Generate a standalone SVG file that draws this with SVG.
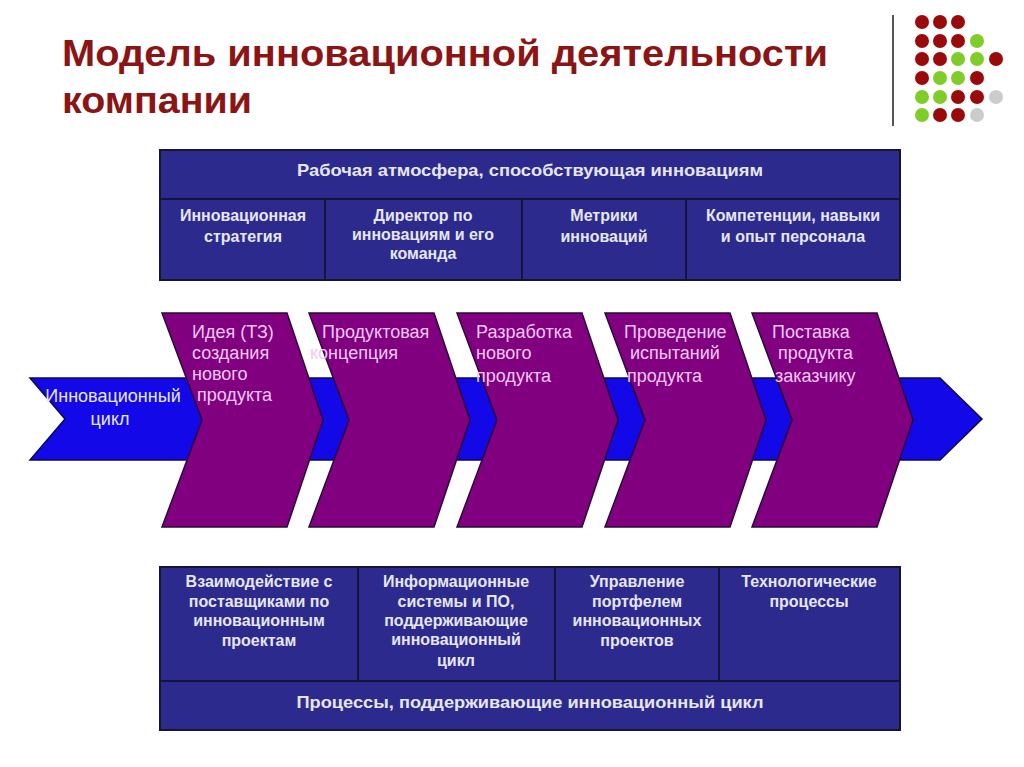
<svg xmlns="http://www.w3.org/2000/svg" width="1024" height="767" viewBox="0 0 1024 767">
<style>
.title{font-family:"Liberation Sans",Arial,sans-serif;font-weight:bold;font-size:36px;fill:#8b1515}
.cell{fill:#2d2a8e;stroke:#15153a;stroke-width:2}
.tt{font-family:"Liberation Sans",Arial,sans-serif;font-weight:bold;font-size:16px;fill:#e6e6f0;text-anchor:middle}
.hd{font-family:"Liberation Sans",Arial,sans-serif;font-size:17px;fill:#e6e6f0;text-anchor:middle;font-weight:bold}
.chev{fill:#800080;stroke:#2a0a3a;stroke-width:1.5}
.ct{font-family:"Liberation Sans",Arial,sans-serif;font-size:18px;fill:#f2c8f2}
.at{font-family:"Liberation Sans",Arial,sans-serif;font-size:18px;fill:#e6e6ff;text-anchor:middle}
.r{fill:#9b0a0a}.g{fill:#80cc28}.y{fill:#cccccc}
</style>
<rect width="1024" height="767" fill="#ffffff"/>
<g id="title">
<text class="title" x="62" y="66" textLength="766" lengthAdjust="spacingAndGlyphs">Модель инновационной деятельности</text>
<text class="title" x="62" y="113" textLength="190" lengthAdjust="spacingAndGlyphs">компании</text>
</g>
<g id="deco">
<line x1="893" y1="15" x2="893" y2="126" stroke="#555" stroke-width="2"/>
<circle class="r" cx="922" cy="22" r="7"/><circle class="r" cx="940" cy="22" r="7"/><circle class="r" cx="958" cy="22" r="7"/>
<circle class="r" cx="922" cy="41" r="7"/><circle class="r" cx="940" cy="41" r="7"/><circle class="r" cx="958" cy="41" r="7"/><circle class="g" cx="977" cy="41" r="7"/>
<circle class="r" cx="922" cy="59" r="7"/><circle class="r" cx="940" cy="59" r="7"/><circle class="g" cx="958" cy="59" r="7"/><circle class="g" cx="977" cy="59" r="7"/><circle class="r" cx="996" cy="59" r="7"/>
<circle class="r" cx="922" cy="78" r="7"/><circle class="g" cx="940" cy="78" r="7"/><circle class="g" cx="958" cy="78" r="7"/><circle class="r" cx="977" cy="78" r="7"/>
<circle class="g" cx="922" cy="97" r="7"/><circle class="g" cx="940" cy="97" r="7"/><circle class="r" cx="958" cy="97" r="7"/><circle class="r" cx="977" cy="97" r="7"/><circle class="y" cx="996" cy="97" r="7"/>
<circle class="g" cx="922" cy="115" r="7"/><circle class="r" cx="940" cy="115" r="7"/><circle class="r" cx="958" cy="115" r="7"/><circle class="y" cx="977" cy="115" r="7"/>
</g>
<g id="top-table">
<rect class="cell" x="160" y="150" width="740" height="49"/>
<rect class="cell" x="160" y="199" width="165" height="81"/>
<rect class="cell" x="325" y="199" width="197" height="81"/>
<rect class="cell" x="522" y="199" width="164" height="81"/>
<rect class="cell" x="686" y="199" width="214" height="81"/>
<text class="hd" x="530" y="176" textLength="466" lengthAdjust="spacingAndGlyphs">Рабочая атмосфера, способствующая инновациям</text>
<text class="tt" x="243" y="221">Инновационная</text>
<text class="tt" x="243" y="242">стратегия</text>
<text class="tt" x="423" y="221">Директор по</text>
<text class="tt" x="423" y="240">инновациям и его</text>
<text class="tt" x="423" y="259">команда</text>
<text class="tt" x="604" y="221">Метрики</text>
<text class="tt" x="604" y="242">инноваций</text>
<text class="tt" x="793" y="221">Компетенции, навыки</text>
<text class="tt" x="793" y="242">и опыт персонала</text>
</g>
<g id="cycle-arrow">
<polygon points="30,378 940,378 982,419 940,460 30,460 65,419" fill="#1208e8" stroke="#0a0a50" stroke-width="1.5"/>
<text class="at" x="113" y="402">Инновационный</text>
<text class="at" x="110" y="425">цикл</text>
</g>
<g id="stage1">
<polygon class="chev" points="162,313 287,313 323,420 287,527 162,527 202,420"/>
<text class="ct" x="192" y="338">Идея (ТЗ)</text>
<text class="ct" x="192" y="359">создания</text>
<text class="ct" x="192" y="380">нового</text>
<text class="ct" x="197" y="401">продукта</text>
</g>
<g id="stage2">
<polygon class="chev" points="309,313 434,313 470,420 434,527 309,527 349,420"/>
<text class="ct" x="322" y="338">Продуктовая</text>
<text class="ct" x="310" y="359">концепция</text>
</g>
<g id="stage3">
<polygon class="chev" points="457,313 582,313 618,420 582,527 457,527 497,420"/>
<text class="ct" x="476" y="338">Разработка</text>
<text class="ct" x="476" y="359">нового</text>
<text class="ct" x="476" y="382">продукта</text>
</g>
<g id="stage4">
<polygon class="chev" points="605,313 730,313 766,420 730,527 605,527 645,420"/>
<text class="ct" x="624" y="338">Проведение</text>
<text class="ct" x="630" y="359">испытаний</text>
<text class="ct" x="627" y="382">продукта</text>
</g>
<g id="stage5">
<polygon class="chev" points="752,313 877,313 913,420 877,527 752,527 792,420"/>
<text class="ct" x="772" y="338">Поставка</text>
<text class="ct" x="778" y="359">продукта</text>
<text class="ct" x="775" y="382">заказчику</text>
</g>
<g id="bottom-table">
<rect class="cell" x="160" y="567" width="198" height="114"/>
<rect class="cell" x="358" y="567" width="197" height="114"/>
<rect class="cell" x="555" y="567" width="164" height="114"/>
<rect class="cell" x="719" y="567" width="181" height="114"/>
<rect class="cell" x="160" y="681" width="740" height="49"/>
<text class="tt" x="259" y="587">Взаимодействие с</text>
<text class="tt" x="259" y="607">поставщиками по</text>
<text class="tt" x="259" y="626">инновационным</text>
<text class="tt" x="259" y="646">проектам</text>
<text class="tt" x="456" y="587">Информационные</text>
<text class="tt" x="456" y="607">системы и ПО,</text>
<text class="tt" x="456" y="626">поддерживающие</text>
<text class="tt" x="456" y="645">инновационный</text>
<text class="tt" x="456" y="666">цикл</text>
<text class="tt" x="637" y="587">Управление</text>
<text class="tt" x="637" y="607">портфелем</text>
<text class="tt" x="637" y="626">инновационных</text>
<text class="tt" x="637" y="646">проектов</text>
<text class="tt" x="809" y="587">Технологические</text>
<text class="tt" x="809" y="607">процессы</text>
<text class="hd" x="530" y="708" textLength="467" lengthAdjust="spacingAndGlyphs">Процессы, поддерживающие инновационный цикл</text>
</g>
</svg>
